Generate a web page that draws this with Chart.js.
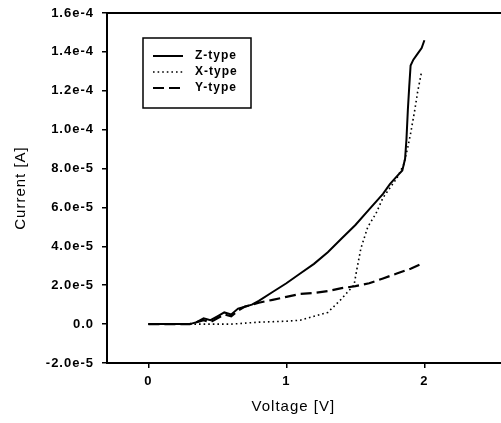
<!DOCTYPE html>
<html>
<head>
<meta charset="utf-8">
<script src="https://cdn.jsdelivr.net/npm/chart.js@4.4.0/dist/chart.umd.min.js"></script>
<style>
  html, body { margin: 0; padding: 0; background: #fff; overflow: hidden; }
  #wrap { width: 530px; height: 423px; }
</style>
</head>
<body>
<div id="wrap"><canvas id="ivChart" width="530" height="423"></canvas></div>
<script>
// I-V curves
const voltsZ   = [0, 0.1, 0.2, 0.3, 0.35, 0.4, 0.45, 0.5, 0.55, 0.6, 0.65, 0.7, 0.75, 0.8, 0.9, 1.0, 1.1, 1.2, 1.3, 1.4, 1.5, 1.6, 1.7, 1.75, 1.8, 1.84, 1.86, 1.87, 1.88, 1.89, 1.9, 1.92, 1.95, 1.98, 2.0];
const currentZ = [0, 0, 0, 0, 1e-6, 3e-6, 2e-6, 4e-6, 6e-6, 5e-6, 8e-6, 9e-6, 1.0e-5, 1.2e-5, 1.65e-5, 2.1e-5, 2.6e-5, 3.1e-5, 3.7e-5, 4.4e-5, 5.1e-5, 5.9e-5, 6.7e-5, 7.2e-5, 7.6e-5, 7.9e-5, 8.5e-5, 9.5e-5, 1.1e-4, 1.22e-4, 1.33e-4, 1.36e-4, 1.39e-4, 1.42e-4, 1.46e-4];

const voltsX   = [0, 0.2, 0.4, 0.6, 0.8, 1.0, 1.1, 1.2, 1.3, 1.4, 1.45, 1.49, 1.51, 1.54, 1.59, 1.65, 1.7, 1.75, 1.8, 1.85, 1.88, 1.9, 1.93, 1.95, 1.98];
const currentX = [0, 0, 0, 0, 1e-6, 1.5e-6, 2e-6, 4e-6, 6e-6, 1.3e-5, 1.7e-5, 2.0e-5, 2.8e-5, 3.9e-5, 5.0e-5, 5.7e-5, 6.5e-5, 7.0e-5, 7.5e-5, 8.2e-5, 9.1e-5, 9.8e-5, 1.1e-4, 1.19e-4, 1.3e-4];

const voltsY   = [0, 0.1, 0.2, 0.3, 0.35, 0.4, 0.45, 0.5, 0.55, 0.6, 0.65, 0.7, 0.75, 0.8, 0.9, 1.0, 1.1, 1.2, 1.3, 1.4, 1.5, 1.6, 1.7, 1.8, 1.9, 1.98];
const currentY = [0, 0, 0, 0, 1e-6, 2e-6, 1e-6, 3e-6, 5e-6, 4e-6, 7e-6, 9e-6, 1.0e-5, 1.1e-5, 1.25e-5, 1.4e-5, 1.55e-5, 1.6e-5, 1.7e-5, 1.85e-5, 1.95e-5, 2.1e-5, 2.35e-5, 2.6e-5, 2.85e-5, 3.1e-5];

const seriesNames = ["Z-type", "X-type", "Y-type"];

const xTicks = [0, 1, 2];
const yTicks = [-2e-5, 0, 2e-5, 4e-5, 6e-5, 8e-5, 1.0e-4, 1.2e-4, 1.4e-4, 1.6e-4];
const yTickLabels = ["-2.0e-5", "0.0", "2.0e-5", "4.0e-5", "6.0e-5", "8.0e-5", "1.0e-4", "1.2e-4", "1.4e-4", "1.6e-4"];

const FONT = "Arial, 'Liberation Sans', sans-serif";

function toPoints(xs, ys) {
    return xs.map((v, i) => ({ x: v, y: ys[i] }));
}

// frame top edge, axis titles and the boxed legend
const extras = {
    id: "extras",
    beforeDraw(chart) {
        chart.ctx.letterSpacing = "1px";
    },
    afterDraw(chart) {
        const ctx = chart.ctx;
        const area = chart.chartArea;
        const xs = chart.scales.x;
        ctx.save();
        ctx.strokeStyle = "#000";
        ctx.lineWidth = 2;
        ctx.beginPath();
        ctx.moveTo(area.left, area.top);
        ctx.lineTo(area.right, area.top);
        ctx.stroke();

        ctx.fillStyle = "#000";
        ctx.font = "15px " + FONT;
        ctx.letterSpacing = "1px";
        ctx.textAlign = "center";
        ctx.textBaseline = "middle";
        ctx.fillText("Voltage [V]", xs.getPixelForValue(1.05), 407);
        ctx.save();
        ctx.translate(21, (area.top + area.bottom) / 2);
        ctx.rotate(-Math.PI / 2);
        ctx.fillText("Current [A]", 0, 0);
        ctx.restore();

        // legend
        const bx = area.left + 36, by = area.top + 25, bw = 108, bh = 70;
        ctx.lineWidth = 1.5;
        ctx.setLineDash([]);
        ctx.strokeRect(bx, by, bw, bh);
        ctx.font = "bold 12px " + FONT;
        ctx.textAlign = "left";
        chart.data.datasets.forEach((ds, i) => {
            const ry = by + 18 + i * 16;
            ctx.lineWidth = ds.borderWidth;
            ctx.setLineDash(ds.borderDash || []);
            ctx.beginPath();
            ctx.moveTo(bx + 10, ry);
            ctx.lineTo(bx + 40, ry);
            ctx.stroke();
            ctx.setLineDash([]);
            ctx.fillText(ds.label, bx + 52, ry);
        });
        ctx.restore();
    },
};

const ctx = document.getElementById("ivChart").getContext("2d");
const chart = new Chart(ctx, {
    type: "line",
    data: {
        datasets: [
            {
                label: seriesNames[0],
                data: toPoints(voltsZ, currentZ),
                borderColor: "#000",
                borderWidth: 2,
                pointRadius: 0,
            },
            {
                label: seriesNames[1],
                data: toPoints(voltsX, currentX),
                borderColor: "#000",
                borderWidth: 1.6,
                borderDash: [1.6, 3],
                pointRadius: 0,
            },
            {
                label: seriesNames[2],
                data: toPoints(voltsY, currentY),
                borderColor: "#000",
                borderWidth: 2.2,
                borderDash: [11, 5],
                pointRadius: 0,
            },
        ],
    },
    options: {
        responsive: false,
        animation: false,
        layout: { padding: { top: 13, right: 9, left: 0, bottom: 0 } },
        plugins: {
            legend: { display: false },
            tooltip: { enabled: false },
        },
        scales: {
            x: {
                type: "linear",
                min: -0.3,
                max: 2.7,
                afterBuildTicks: (s) => { s.ticks = xTicks.map((v) => ({ value: v })); },
                afterFit: (s) => { s.height = 60; },
                ticks: {
                    color: "#000",
                    font: { family: FONT, size: 13, weight: "bold" },
                    padding: 6,
                    maxRotation: 0,
                    callback: (v) => String(v),
                },
                grid: { drawOnChartArea: false, tickLength: 5, color: "#000", lineWidth: 1.5 },
                border: { color: "#000", width: 2 },
            },
            y: {
                min: -2e-5,
                max: 1.6e-4,
                afterBuildTicks: (s) => { s.ticks = yTicks.map((v) => ({ value: v })); },
                afterFit: (s) => { s.width = 107; s.paddingTop = 0; s.paddingBottom = 0; },
                ticks: {
                    color: "#000",
                    font: { family: FONT, size: 13, weight: "bold" },
                    padding: 8,
                    callback: (v, i) => yTickLabels[i],
                },
                grid: { drawOnChartArea: false, tickLength: 5, color: "#000", lineWidth: 1.5 },
                border: { color: "#000", width: 2 },
            },
        },
    },
    plugins: [extras],
});
</script>
</body>
</html>
